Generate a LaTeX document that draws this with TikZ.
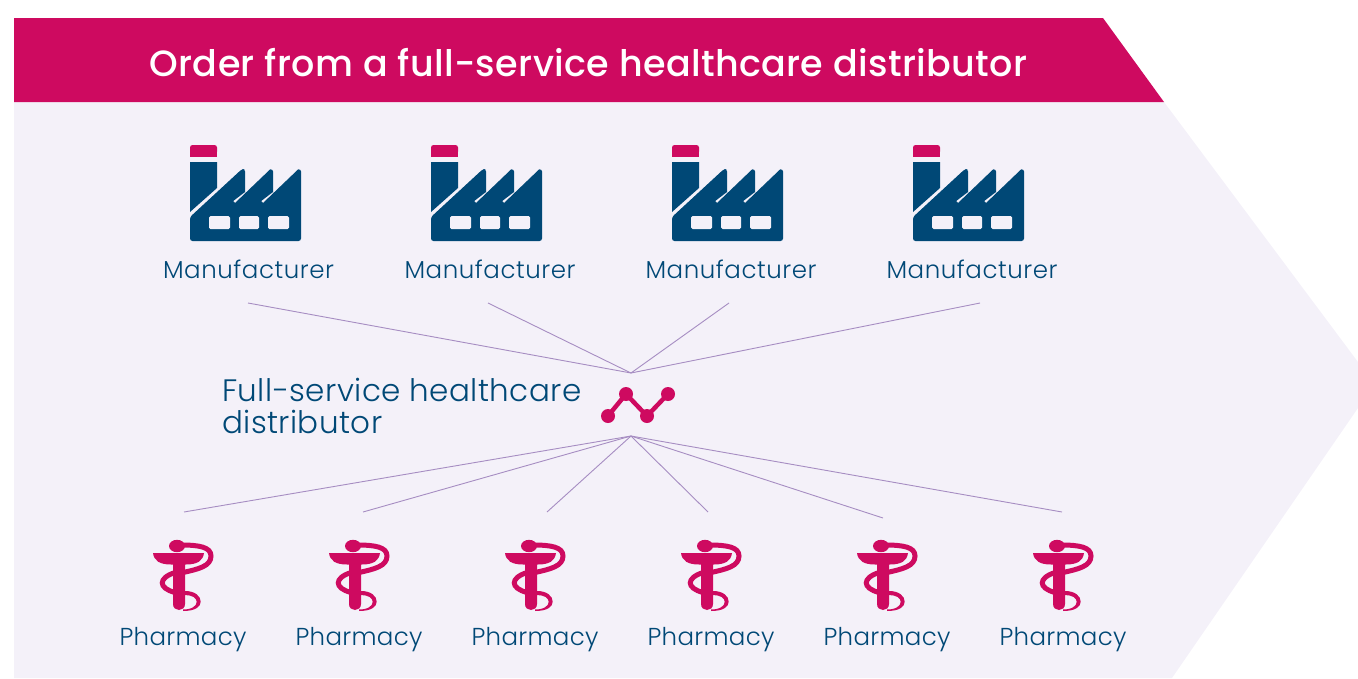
\documentclass[tikz,border=0pt]{standalone}
\usepackage{fontspec}
\setmainfont{Poppins}
\newfontfamily\ttlfont[LetterSpace=1.0]{Poppins Medium}
\newfontfamily\lblfont[LetterSpace=2.2]{Poppins Light}
\newfontfamily\phfont[LetterSpace=1.3]{Poppins Light}
\newfontfamily\dstfont[LetterSpace=1.4]{Poppins Light}
\definecolor{mag}{HTML}{CE0A60}
\definecolor{pale}{HTML}{F4F1F9}
\definecolor{navy}{HTML}{004876}
\definecolor{lilac}{HTML}{A68DC2}
\tikzset{
 x=1pt,y=-1pt,
 link/.style={draw=lilac,line width=0.9pt},
 mlabel/.style={text=navy,font=\lblfont\fontsize{24.5}{26}\selectfont,anchor=base,inner sep=0pt},
 plabel/.style={text=navy,font=\phfont\fontsize{24.5}{26}\selectfont,anchor=base,inner sep=0pt},
 dlabel/.style={text=navy,font=\dstfont\fontsize{31}{32}\selectfont,anchor=base west,inner sep=0pt,align=left},
 factory/.pic={
  \fill[mag,rounded corners=2.5pt] (0,-1) rectangle (27,8);
  \fill[mag] (0,4) rectangle (27,11);
  \fill[navy] (0,16) -- (27,16) -- (27,42) -- (0,66) -- cycle;
  \fill[navy,rounded corners=2.5pt] (0,71) -- (52,23) -- (55,23) [sharp corners] -- (55,46) -- (43.2,55) -- (45,57) -- (80,23.5) [rounded corners=2.5pt] -- (83,23) [sharp corners] -- (83,46) -- (71.2,55) -- (73,57) -- (108,23.5) [rounded corners=2.5pt] -- (111,23) -- (111,95) -- (0,95) -- cycle;
  \fill[pale,rounded corners=1.5pt] (19,70) rectangle +(21,13) (49,70) rectangle +(20,13) (78,70) rectangle +(21,13);
 },
 pharm/.pic={
  \fill[mag] (0,0) -- (51,0) .. controls (50,8) and (44,11.5) .. (33,11.5) -- (18,11.5) .. controls (7,11.5) and (1,8) .. (0,0) -- cycle;
  \fill[mag] (20,6) -- (32,6) -- (32,51) .. controls (32,59) and (20,59) .. (20,51) -- cycle;
  \fill[mag] (24,-7) ellipse (8 and 6.2);
  \draw[mag,line width=5pt] (28,-8) .. controls (46,-8) and (58,-6) .. (58,3) .. controls (58,13) and (46,16) .. (30,19.5);
  \draw[mag,line width=5pt] (22,19.5) .. controls (5,25) and (5,35) .. (22,39.5);
  \fill[mag] (32,38) .. controls (42,38) and (47.7,43) .. (47.7,48.7) .. controls (47.7,54) and (42,58) .. (30,58) -- (30,56.5) .. controls (39,56.5) and (43.7,53) .. (43.7,48.7) .. controls (43.7,45) and (39,42) .. (32,42) -- cycle;
 }
}
\begin{document}
\begin{tikzpicture}
\useasboundingbox (0,0) rectangle (1358,678);
\fill[pale] (14,102) -- (1164,102) -- (1358,362) -- (1358,408) -- (1172,678) -- (14,678) -- cycle;
\fill[mag] (14,18) -- (1103,18) -- (1164,102) -- (14,102) -- cycle;
\node[text=white,anchor=base,inner sep=0pt,font=\ttlfont\fontsize{36.5}{40}\selectfont] (title) at (588.5,76) {Order from a full-service healthcare distributor};

\foreach \n/\ix/\lx/\ex in {1/190/248.5/248,2/431/490/488,3/672/731/729,4/913/972/980}{
  \pic at (\ix,146) {factory};
  \node[mlabel] (m\n) at (\lx,278) {Manufacturer};
  \coordinate (mc\n) at (\ex,303);
}
\coordinate (hubtop) at (631,373);
\coordinate (hubbot) at (631,436);
\foreach \n in {1,2,3,4}{\draw[link] (mc\n) -- (hubtop);}

\node[dlabel] (dist) at (222,401) {Full-service healthcare};
\node[dlabel] (dist2) at (222,433) {distributor};
\coordinate (d1) at (608,416);
\coordinate (d2) at (626,394);
\coordinate (d3) at (647,416);
\coordinate (d4) at (668,394);
\draw[mag,line width=4.5pt] (d1) -- (d2) -- (d3) -- (d4);
\foreach \n in {1,2,3,4}{\fill[mag] (d\n) circle (7);}

\foreach \n/\ix/\lx/\ex/\ey in {1/153/183/184/512,2/329/359/363/512,3/505/535/547/512,4/681/711/708/512,5/857/887/883/518,6/1033/1063/1062/512}{
  \pic at (\ix,553) {pharm};
  \node[plabel] (p\n) at (\lx,645) {Pharmacy};
  \coordinate (pc\n) at (\ex,\ey);
  \draw[link] (hubbot) -- (pc\n);
}
\end{tikzpicture}
\end{document}
